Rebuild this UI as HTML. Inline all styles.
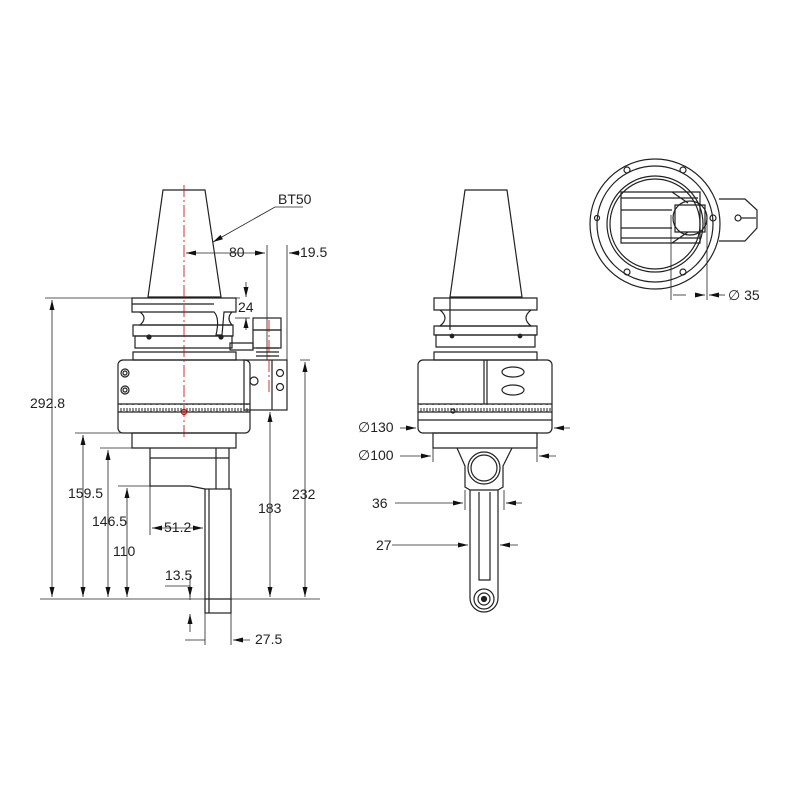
<!DOCTYPE html>
<html><head><meta charset="utf-8"><style>body{margin:0;background:#fff}svg{display:block}text{font-family:"Liberation Sans",sans-serif;font-size:14px;fill:#222}</style></head><body>
<svg width="800" height="800" viewBox="0 0 800 800" xmlns="http://www.w3.org/2000/svg">
<defs><marker id="a" viewBox="0 0 12 6" refX="12" refY="3" markerWidth="12" markerHeight="5" markerUnits="userSpaceOnUse" orient="auto-start-reverse"><path d="M0,0L12,3L0,6z" fill="#111"/></marker>
<pattern id="tk" width="6" height="8" patternUnits="userSpaceOnUse"><path d="M1,0V5M4,0V3" stroke="#222" stroke-width="1"/></pattern></defs>
<rect x="118" y="404" width="132" height="8" fill="url(#tk)"/>
<rect x="418" y="404" width="134" height="8" fill="url(#tk)"/>
<g fill="none" stroke="#222" stroke-width="1.2">
<!-- LEFT VIEW -->
<path d="M163,190H205L221,297H148Z"/>
<path d="M132,298H236V312H224L222,335H216Q220,318 214,312H132Z"/>
<path d="M132,304H214"/>
<path d="M140,312Q148,318 140,325H232Q226,318 232,312"/>
<path d="M133,325H233V336H133Z"/>
<path d="M135,336H232V348H135Z"/>
<circle cx="149" cy="337" r="2" fill="#222"/><circle cx="221" cy="337" r="2" fill="#222"/>
<path d="M133,352H236V360H133Z"/>
<rect x="118" y="360" width="132" height="73" rx="5"/>
<path d="M118,404H250M118,412H250"/>
<circle cx="125" cy="373" r="4"/><circle cx="125" cy="373" r="2"/>
<circle cx="125" cy="390" r="4"/><circle cx="125" cy="390" r="2"/>
<circle cx="184" cy="412" r="2.5" stroke="#c00"/>
<path d="M132,433H236V448H132Z"/>
<path d="M150,448V486H190L205,489M150,458H229M216,448V489M229,448V489"/>
<rect x="205" y="489" width="26" height="124"/>
<path d="M209,489V613M205,599H231"/>
<rect x="244" y="360" width="43" height="50"/>
<path d="M272,360V410"/>
<circle cx="254" cy="381" r="4"/><circle cx="280" cy="373" r="3.5"/><circle cx="280" cy="387" r="3.5"/>
<rect x="253" y="318" width="28" height="12"/><rect x="253" y="330" width="28" height="18"/>
<path d="M256,348H279M256,352H279M256,356H279"/>
<path d="M230,343H253V350H230Z"/>
</g>
<g fill="none" stroke="#222" stroke-width="0.8">
<path d="M45,298H240M75,433H130M100,448H132M118,486H190M300,360H310M40,599H320"/>
<path d="M52,300V597" marker-start="url(#a)" marker-end="url(#a)"/>
<path d="M83,435V597" marker-start="url(#a)" marker-end="url(#a)"/>
<path d="M108,450V597" marker-start="url(#a)" marker-end="url(#a)"/>
<path d="M127,488V597" marker-start="url(#a)" marker-end="url(#a)"/>
<path d="M270,412V597" marker-start="url(#a)" marker-end="url(#a)"/>
<path d="M305,362V597" marker-start="url(#a)" marker-end="url(#a)"/>
<path d="M186,253H265" marker-start="url(#a)" marker-end="url(#a)"/>
<path d="M267,245V360M287,245V360"/>
<path d="M300,253H289" marker-end="url(#a)"/>
<path d="M246,282V297" marker-end="url(#a)"/>
<path d="M246,330V318" marker-end="url(#a)"/>
<path d="M235,318H250"/>
<path d="M152,528H203" marker-start="url(#a)" marker-end="url(#a)"/>
<path d="M150,486V535"/>
<path d="M165,586H190V600"/>
<path d="M190,576V597" marker-end="url(#a)"/>
<path d="M190,632V614" marker-end="url(#a)"/>
<path d="M185,640H205M205,613V645M231,613V645"/>
<path d="M250,640H233" marker-end="url(#a)"/>
<path d="M303,207H275L213,242" marker-end="url(#a)"/>
</g>
<g fill="none" stroke="#222" stroke-width="1.2">
<!-- MIDDLE VIEW -->
<path d="M465,190H507L522,297H450Z"/>
<path d="M434,298H537V310H434Z"/>
<path d="M440,310Q450,318 440,326H531Q521,318 531,310"/>
<path d="M434,326H537V335H434Z"/><path d="M436,335H535V347H436Z"/>
<circle cx="452" cy="336" r="1.8" fill="#222"/><circle cx="520" cy="336" r="1.8" fill="#222"/>
<path d="M450,298V330M434,352H537V360H434Z"/>
<rect x="418" y="360" width="134" height="73" rx="5"/>
<path d="M418,404H552M418,412H552M418,420H552M484,360V404M487,360V404"/>
<ellipse cx="513" cy="372" rx="11" ry="5"/><ellipse cx="513" cy="390" rx="11" ry="5"/>
<circle cx="453" cy="411" r="2"/>
<path d="M433,433H537V448H433Z"/>
<path d="M457,448L465,466V487L470,490M512,448L503,466V487L498,490"/>
<circle cx="484" cy="468" r="16"/><circle cx="484" cy="468" r="13"/>
<path d="M470,490V598A14,14 0 0 0 498,598V490Z"/>
<path d="M479,492V580H490V492"/>
<circle cx="484" cy="599" r="10"/><circle cx="484" cy="599" r="6"/><circle cx="484" cy="599" r="2.5" fill="#222"/>
</g>
<g fill="none" stroke="#222" stroke-width="0.8">
<path d="M400,428H416" marker-end="url(#a)"/><path d="M570,428H554" marker-end="url(#a)"/>
<path d="M400,456H431" marker-end="url(#a)"/><path d="M556,456H539" marker-end="url(#a)"/>
<path d="M433,448V462M537,448V462M465,490V510M504,490V510"/>
<path d="M395,503H463" marker-end="url(#a)"/><path d="M522,503H506" marker-end="url(#a)"/>
<path d="M392,545H468" marker-end="url(#a)"/><path d="M518,545H500" marker-end="url(#a)"/>
</g>
<g fill="none" stroke="#222" stroke-width="1.2">
<!-- TOP RIGHT -->
<circle cx="655" cy="224" r="65"/><circle cx="655" cy="224" r="58"/>
<circle cx="655" cy="224" r="48"/><circle cx="655" cy="224" r="45"/>
<path d="M621,192H700V243H621Z M621,198H698M621,210H672M621,228H672M621,238H700 M672,192L688,203M672,243L688,232"/>
<circle cx="690" cy="218" r="17"/>
<path d="M675,205H705V232H675Z"/>
<path d="M719,199H745L757,210V228L745,241H719"/>
<circle cx="738" cy="218" r="3"/><path d="M741,218H756"/>
<circle cx="627" cy="170" r="3"/><circle cx="683" cy="170" r="3"/><circle cx="627" cy="272" r="3"/><circle cx="683" cy="272" r="3"/>
<circle cx="713" cy="218" r="3"/><circle cx="597" cy="218" r="2.5"/>
</g>
<g fill="none" stroke="#222" stroke-width="0.8">
<path d="M671,215V300M707,215V300"/>
<path d="M673,295H686"/><path d="M698,295H705" marker-end="url(#a)"/>
<path d="M725,295H709" marker-end="url(#a)"/>
</g>
<g stroke="#c00" stroke-width="0.8" stroke-dasharray="12,3,2,3"><path d="M184,185V440"/><path d="M269,320V395"/></g>
<text x="30" y="408">292.8</text>
<text x="68" y="498">159.5</text>
<text x="92" y="526">146.5</text>
<text x="113" y="556">110</text>
<text x="258" y="513">183</text>
<text x="292" y="499">232</text>
<text x="164" y="532">51.2</text>
<text x="165" y="580">13.5</text>
<text x="255" y="644">27.5</text>
<text x="229" y="257">80</text>
<text x="300" y="257">19.5</text>
<text x="238" y="312">24</text>
<text x="278" y="204">BT50</text>
<text x="358" y="432">∅130</text>
<text x="358" y="460">∅100</text>
<text x="372" y="508">36</text>
<text x="376" y="550">27</text>
<text x="728" y="300">∅ 35</text>
</svg>
</body></html>
